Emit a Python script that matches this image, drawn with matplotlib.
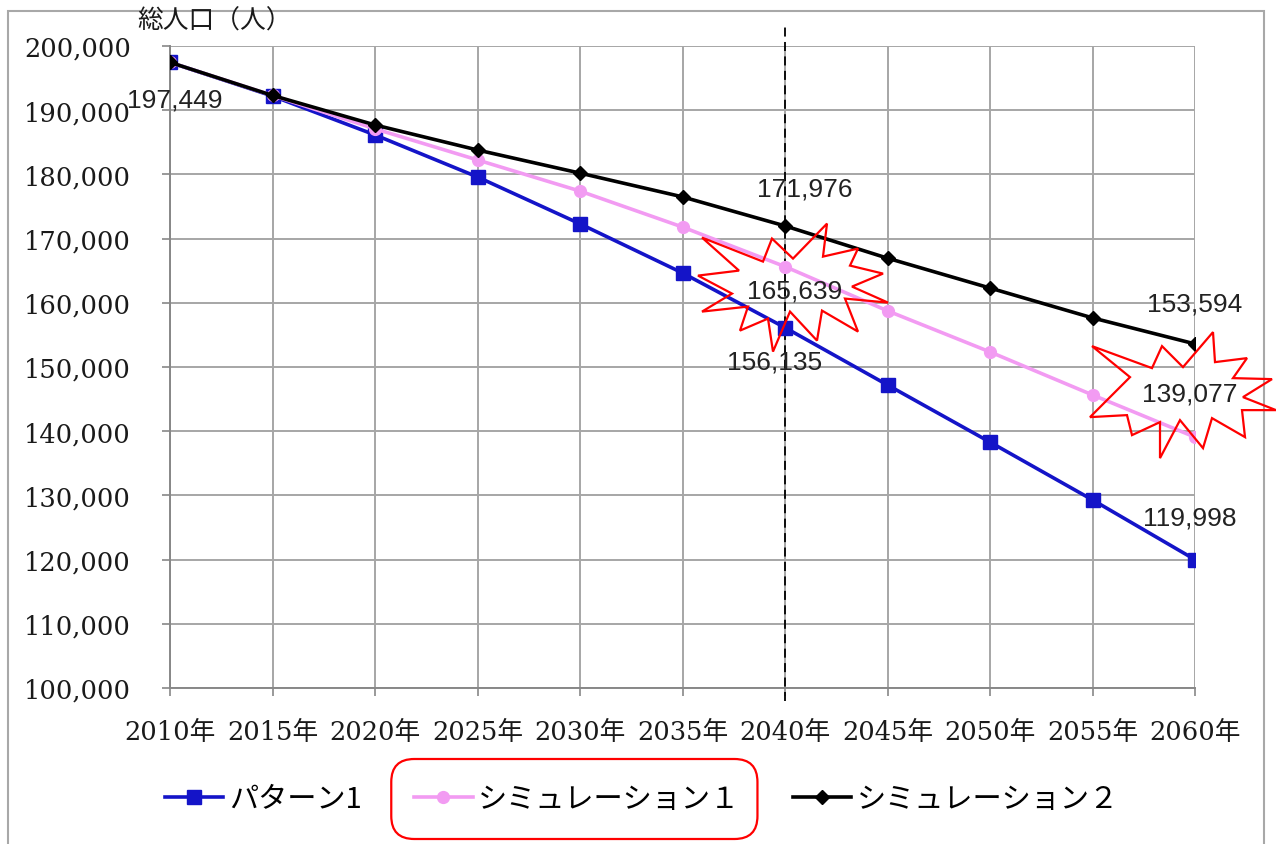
import matplotlib
matplotlib.use("Agg")
import matplotlib.pyplot as plt
from matplotlib.lines import Line2D
from matplotlib.patches import Polygon, FancyBboxPatch, Rectangle
from matplotlib.ticker import FuncFormatter

years = [2010, 2015, 2020, 2025, 2030, 2035, 2040, 2045, 2050, 2055, 2060]
year_labels = [f"{y}年" for y in years]

pattern1 = [197449, 192200, 186150, 179600, 172300, 164650, 156135, 147200, 138300, 129300, 119998]
simulation1 = [197449, 192300, 187100, 182250, 177400, 171800, 165639, 158750, 152350, 145650, 139077]
simulation2 = [197449, 192300, 187700, 183800, 180200, 176500, 171976, 166950, 162300, 157650, 153594]

series_names = ["パターン1", "シミュレーション１", "シミュレーション２"]
series_colors = ["#1414C8", "#F29BF2", "#000000"]

CJK = ["Noto Sans CJK JP", "DejaVu Sans"]
SERIF = ["DejaVu Serif", "Noto Sans CJK JP"]
LABEL_FONT = ["Liberation Sans", "DejaVu Sans"]

fig = plt.figure(figsize=(12.76, 8.45), dpi=100)
W, H = 1276, 845
ax = fig.add_axes([170 / W, 1 - 689 / H, (1195 - 170) / W, (689 - 47) / H])

# outer frame of the chart
fig.patches.append(Rectangle((8 / W, -0.05), (1264 - 8) / W, (845 - 12) / H + 0.05,
                             transform=fig.transFigure, fill=False,
                             edgecolor="#A8A8A8", linewidth=1.5))

ax.set_xlim(2010, 2060)
ax.set_ylim(100000, 200000)
ax.set_xticks(years)
ax.set_xticklabels(year_labels, fontfamily=SERIF, fontsize=18.5)
ax.set_yticks(range(100000, 200001, 10000))
ax.yaxis.set_major_formatter(FuncFormatter(lambda v, p: f"{int(v):,}"))
for lab in ax.get_yticklabels():
    lab.set_fontfamily(SERIF)
    lab.set_fontsize(18.5)
ax.tick_params(axis="both", length=6, width=1.2, color="#888888", labelcolor="#1A1A1A")
ax.tick_params(axis="y", pad=22)
ax.tick_params(axis="x", pad=16)

ax.grid(True, color="#A6A6A6", linewidth=1.4)
ax.set_axisbelow(True)
for side in ["top", "right"]:
    ax.spines[side].set_visible(False)
for side in ["left", "bottom"]:
    ax.spines[side].set_color("#888888")
    ax.spines[side].set_linewidth(1.4)

# 2040 reference line (extends slightly past the plot area)
ax.plot([2040, 2040], [-0.02, 1.03], transform=ax.get_xaxis_transform(),
        color="black", linestyle=(0, (5, 3)), linewidth=1.3, clip_on=False, zorder=2)

ax.plot(years, pattern1, color=series_colors[0], linewidth=2.6, marker="s",
        markersize=10, zorder=3, label=series_names[0])
ax.plot(years, simulation1, color=series_colors[1], linewidth=2.6, marker="o",
        markersize=8.5, zorder=4, label=series_names[1])
ax.plot(years, simulation2, color=series_colors[2], linewidth=2.6, marker="D",
        markersize=7.5, zorder=5, label=series_names[2])

fig.text(215 / W, 1 - 22 / H, "総人口（人）", fontfamily=CJK, fontsize=18.5,
         ha="center", va="center", color="#1A1A1A")

# value labels: (year index, series values, offset in pixels)
labels = [
    (0, pattern1, (5, -37)),
    (6, simulation2, (20, 37)),
    (6, simulation1, (10, -24)),
    (6, pattern1, (-10, -34)),
    (10, simulation2, (0, 40)),
    (10, simulation1, (-5, 44)),
    (10, pattern1, (-5, 42)),
]
for i, vals, off in labels:
    ax.annotate(f"{vals[i]:,}", (years[i], vals[i]), xytext=off,
                textcoords="offset pixels", ha="center", va="center",
                fontfamily=LABEL_FONT, fontsize=19, color="#222222", zorder=7,
                annotation_clip=False)

# starburst outlines around highlighted values (pixel offsets from the point)
star_a = [(702, 239), (739, 272), (698, 277), (732, 295), (702, 313), (748, 308),
          (740, 332), (768, 320), (773, 353), (790, 313), (817, 342), (822, 312),
          (858, 333), (845, 300), (888, 304), (852, 288), (883, 275), (850, 267),
          (858, 250), (823, 258), (827, 225), (793, 260), (772, 240), (763, 263)]
star_b = [(1092, 346), (1130, 377), (1090, 417), (1127, 415), (1132, 435), (1160, 422),
          (1160, 458), (1180, 420), (1203, 448), (1212, 418), (1245, 437), (1242, 410),
          (1276, 410), (1243, 397), (1272, 379), (1233, 378), (1247, 358), (1215, 362),
          (1213, 332), (1183, 367), (1162, 346), (1152, 368)]


def draw_star(pts, anchor_px, year, value):
    ax0, ay0 = anchor_px
    base = ax.transData.transform((year, value))
    verts = [(base[0] + (x - ax0), base[1] - (y - ay0)) for x, y in pts]
    poly = Polygon(verts, closed=True, fill=False, edgecolor="#FF0000",
                   linewidth=1.6, transform=None, zorder=6, clip_on=False)
    fig.patches.append(poly)


draw_star(star_a, (785, 268), 2040, simulation1[6])
draw_star(star_b, (1195, 437), 2060, simulation1[10])

handles = [
    Line2D([], [], color=series_colors[0], linewidth=2.6, marker="s", markersize=10),
    Line2D([], [], color=series_colors[1], linewidth=2.6, marker="o", markersize=8.5),
    Line2D([], [], color=series_colors[2], linewidth=2.6, marker="D", markersize=7.5),
]
leg = fig.legend(handles, series_names, loc="center", bbox_to_anchor=(642 / W, 1 - 800 / H),
                 ncol=3, frameon=False, prop={"family": CJK, "size": 21},
                 handlelength=2.0, handletextpad=0.2, columnspacing=1.8)

fig.canvas.draw()
r = fig.canvas.get_renderer()
hbox = leg.legend_handles[1].get_window_extent(r)
tbox = leg.get_texts()[1].get_window_extent(r)
x0 = hbox.x0 - 17
x1 = tbox.x1 + 17
yc = (tbox.y0 + tbox.y1) / 2
box = FancyBboxPatch((x0 / W, (yc - 40) / H), (x1 - x0) / W, 80 / H,
                     boxstyle="round,pad=0,rounding_size=0.018",
                     transform=fig.transFigure, fill=False,
                     edgecolor="#FF0000", linewidth=1.6,
                     mutation_aspect=W / H)
fig.patches.append(box)

fig.savefig("out.png", dpi=100)
